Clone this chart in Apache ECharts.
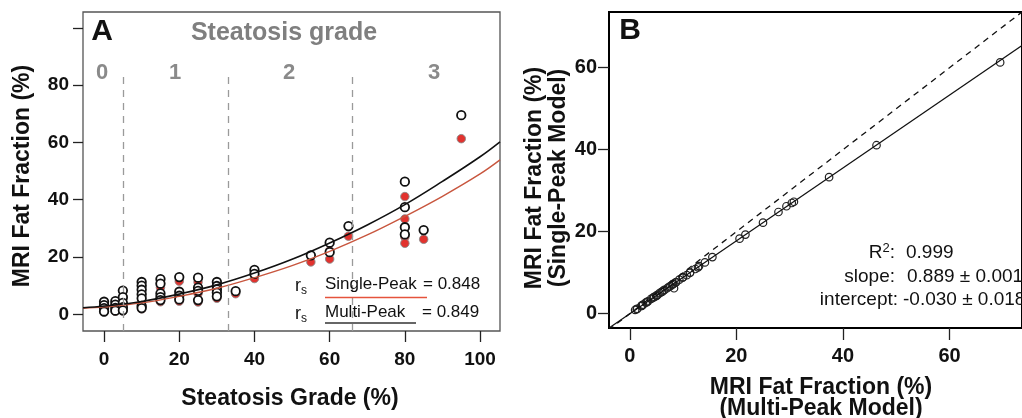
<!DOCTYPE html>
<html>
<head>
<meta charset="utf-8">
<script src="https://cdn.jsdelivr.net/npm/echarts@6/dist/echarts.min.js"></script>
<style>html,body{margin:0;padding:0;background:#fff;}#c{width:1022px;height:418px;}</style>
</head>
<body>
<div id="c"></div>
<script>
// ---- Data ----
// Per-patient histologic steatosis grade (%), MRI fat fraction multi-peak (%), single-peak (%)
const grade = [0,0,0,0, 3,3,3,3, 5,5,5,5,5, 10,10,10,10,10,10,10, 15,15,15,15,15, 20,20,20,20, 25,25,25,25, 30,30,30,30,30, 35, 40,40, 55, 60,60, 65, 80,80,80,80, 85, 95];
const multiPeak = [4.4,3.2,2.2,1.0, 4.6,3.4,2.3,1.3, 8.3,6.0,4.0,2.5,1.4, 11.3,10.0,8.6,7.0,5.6,3.0,2.2, 12.3,10.7,7.3,6.0,5.0, 13.0,7.9,6.5,5.2, 12.8,9.3,8.2,5.0, 11.3,9.9,8.7,7.6,6.3, 8.1, 15.5,14.1, 20.6, 25.0,21.7, 30.8, 46.3,37.4,30.4,27.9, 29.4, 69.5];
const singlePeak = [3.9,2.8,1.9,0.9, 4.1,3.0,2.0,1.1, 6.2,5.3,3.6,2.2,1.2, 10.0,8.9,7.6,6.2,5.0,2.7,1.9, 10.9,9.4,6.5,5.3,4.4, 11.6,7.0,5.8,4.6, 11.3,8.3,7.3,4.3, 10.0,8.8,7.7,6.7,5.6, 7.2, 13.8,12.5, 18.3, 22.2,19.3, 27.3, 41.1,33.3,27.0,24.8, 26.2, 61.3];
// Fitted curves in panel A, read at these grade values
const curveX = [-5.6, 0, 10, 20, 30, 40, 50, 60, 70, 80, 90, 100, 105.3];
const curveMulti = [2.3, 2.9, 4.5, 7.1, 10.3, 14.4, 19.2, 24.9, 31.2, 38.3, 46.4, 55.0, 60.2];
const curveSingle = [2.1, 2.6, 4.0, 6.3, 9.1, 12.8, 17.0, 22.0, 27.7, 34.2, 41.2, 49.0, 53.9];
// Steatosis grade boundaries and labels
const gradeBounds = [5, 33, 66];
const gradeLabels = ['0', '1', '2', '3'];
// Panel B lines
const fitX = [-3.9, 74];
const fitY = [-3.5, 65.8];
const identX = [-4, 75];
const identY = [-4, 75];
// Ticks
const ticksA_x = [0, 20, 40, 60, 80, 100];
const ticksA_y = [0, 20, 40, 60, 80, 100];
const labelsA_y = [0, 20, 40, 60, 80];
const ticksB = [0, 20, 40, 60];
// Stats text
const rsSingle = '0.848', rsMulti = '0.849';
const r2 = '0.999', slope = '0.889 ± 0.001', intercept = '-0.030 ± 0.018';

const FONT = '"Liberation Sans", Arial, sans-serif';
const chart = echarts.init(document.getElementById('c'));

const zip = (a, b) => a.map((v, i) => [v, b[i]]);

function vAxis(idx, min, max, ticks, labels, tickLen, margin, fs) {
  return {
    type: 'value', gridIndex: idx, min, max,
    axisLine: {show: false, onZero: false},
    splitLine: {show: false},
    axisTick: {show: true, length: tickLen, customValues: ticks, lineStyle: {color: '#222', width: 1.3}},
    axisLabel: {show: true, customValues: labels, margin, fontFamily: FONT, fontWeight: 'bold', fontSize: fs, color: '#111'}
  };
}

const txt = (x, y, text, o = {}) => ({
  type: 'text', x, y, rotation: o.rot || 0, z: 100,
  style: {text, font: (o.weight || 'bold') + ' ' + (o.size || 20) + 'px ' + FONT,
    fill: o.color || '#111', textAlign: o.align || 'center', textVerticalAlign: 'middle'}
});

const subRich = (size) => ({r: {font: size + 'px ' + FONT, fill: '#111'}, s: {font: '12px ' + FONT, fill: '#111', padding: [10, 0, 0, 0]}});

const graphics = [
  txt(102, 32, 'A', {size: 30}),
  txt(630, 31, 'B', {size: 30}),
  txt(284, 33, 'Steatosis grade', {size: 25, color: '#7f7f7f'}),
  txt(102, 73, gradeLabels[0], {size: 22, color: '#8a8a8a'}),
  txt(175, 73, gradeLabels[1], {size: 22, color: '#8a8a8a'}),
  txt(289, 73, gradeLabels[2], {size: 22, color: '#8a8a8a'}),
  txt(434, 73, gradeLabels[3], {size: 22, color: '#8a8a8a'}),
  txt(23, 176, 'MRI Fat Fraction (%)', {size: 23, rot: Math.PI / 2}),
  txt(290, 399, 'Steatosis Grade (%)', {size: 23}),
  txt(535, 178, 'MRI Fat Fraction (%)', {size: 23, rot: Math.PI / 2}),
  txt(559, 178, '(Single-Peak Model)', {size: 23, rot: Math.PI / 2}),
  txt(821, 388, 'MRI Fat Fraction (%)', {size: 23}),
  txt(821, 409, '(Multi-Peak Model)', {size: 23}),
  // r_s annotations
  {type: 'text', x: 295, y: 275, z: 100, style: {text: '{r|r}{s|s}', rich: subRich(18)}},
  txt(325, 284, 'Single-Peak', {size: 17, weight: 'normal', align: 'left'}),
  txt(423, 284, '= ' + rsSingle, {size: 17, weight: 'normal', align: 'left'}),
  {type: 'text', x: 295, y: 303, z: 100, style: {text: '{r|r}{s|s}', rich: subRich(18)}},
  txt(325, 312, 'Multi-Peak', {size: 17, weight: 'normal', align: 'left'}),
  txt(422, 312, '= ' + rsMulti, {size: 17, weight: 'normal', align: 'left'}),
  {type: 'line', z: 100, shape: {x1: 325, y1: 297.5, x2: 427, y2: 297.5}, style: {stroke: '#e5533c', lineWidth: 1.5}},
  {type: 'line', z: 100, shape: {x1: 325, y1: 323, x2: 416, y2: 323}, style: {stroke: '#333', lineWidth: 1.5}},
  // Panel B stats
  {type: 'text', x: 895, y: 253, z: 100, style: {text: '{a|R}{b|2}{a|:}', textAlign: 'right', textVerticalAlign: 'middle', rich: {a: {font: '19px ' + FONT, fill: '#111'}, b: {font: '13px ' + FONT, fill: '#111', padding: [0, 0, 10, 0]}}}},
  txt(906, 253, r2, {size: 19, weight: 'normal', align: 'left'}),
  txt(895, 277, 'slope:', {size: 19, weight: 'normal', align: 'right'}),
  txt(907, 277, slope, {size: 19, weight: 'normal', align: 'left'}),
  txt(898, 300, 'intercept:', {size: 19, weight: 'normal', align: 'right'}),
  txt(903, 300, intercept, {size: 19, weight: 'normal', align: 'left'})
];

const option = {
  animation: false,
  backgroundColor: '#fff',
  grid: [
    {left: 83, top: 12, width: 417, height: 319, show: true, borderColor: '#555', borderWidth: 1.3, backgroundColor: 'transparent'},
    {left: 609, top: 12, width: 424, height: 316, show: true, borderColor: '#000', borderWidth: 2, backgroundColor: 'transparent'}
  ],
  xAxis: [
    vAxis(0, -5.6, 105.3, ticksA_x, ticksA_x, 11, 19, 19),
    vAxis(1, -3.9, 73.6, ticksB, ticksB, 12, 18, 20)
  ],
  yAxis: [
    vAxis(0, -5.8, 105.5, ticksA_y, labelsA_y, 10, 14, 19),
    vAxis(1, -3.5, 73.6, ticksB, ticksB, 11, 12, 20)
  ],
  graphic: graphics,
  series: [
    {
      type: 'line', xAxisIndex: 0, yAxisIndex: 0, data: [], silent: true,
      markLine: {
        symbol: 'none', silent: true, label: {show: false},
        lineStyle: {color: '#9a9a9a', type: [7, 6], width: 1.3},
        data: gradeBounds.map(g => [{coord: [g, -5.8]}, {coord: [g, 84.6]}])
      }
    },
    {type: 'line', xAxisIndex: 0, yAxisIndex: 0, data: zip(curveX, curveSingle), smooth: 0.4, showSymbol: false,
      lineStyle: {color: '#c8563e', width: 1.4}},
    {type: 'line', xAxisIndex: 0, yAxisIndex: 0, data: zip(curveX, curveMulti), smooth: 0.4, showSymbol: false,
      lineStyle: {color: '#111', width: 1.6}},
    {type: 'scatter', xAxisIndex: 0, yAxisIndex: 0, data: zip(grade, singlePeak), symbolSize: 8.5,
      itemStyle: {color: '#e2322e', borderColor: '#8a8a8a', borderWidth: 0.9, opacity: 1}},
    {type: 'scatter', xAxisIndex: 0, yAxisIndex: 0, data: zip(grade, multiPeak), symbolSize: 8.5,
      itemStyle: {color: '#fff', borderColor: '#111', borderWidth: 1.8, opacity: 1}},
    {type: 'line', xAxisIndex: 1, yAxisIndex: 1, data: zip(identX, identY), showSymbol: false,
      lineStyle: {color: '#111', width: 1.3, type: [6, 5]}},
    {type: 'line', xAxisIndex: 1, yAxisIndex: 1, data: zip(fitX, fitY), showSymbol: false,
      lineStyle: {color: '#111', width: 1.2}},
    {type: 'scatter', xAxisIndex: 1, yAxisIndex: 1, data: zip(multiPeak, singlePeak), symbolSize: 7.5,
      itemStyle: {color: 'rgba(0,0,0,0)', borderColor: '#222', borderWidth: 1.2, opacity: 1}}
  ]
};
chart.setOption(option);
</script>
</body>
</html>
